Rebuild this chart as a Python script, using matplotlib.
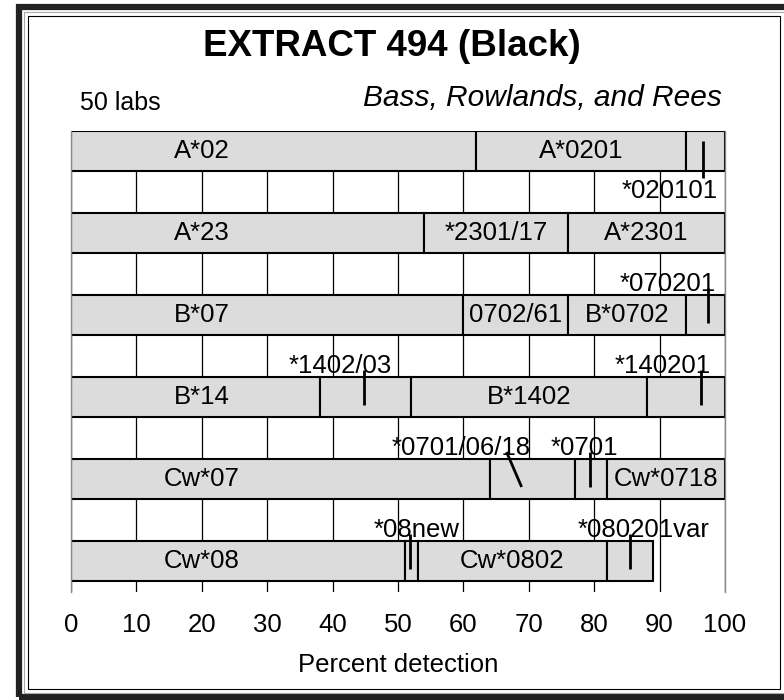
import matplotlib
matplotlib.use("Agg")
import matplotlib.pyplot as plt
from matplotlib.patches import Rectangle

plt.rcParams["font.family"] = ["Liberation Sans", "DejaVu Sans"]

# segment edges (percent) and the label inside each segment, one row per locus
row_names = ["A*02", "A*23", "B*07", "B*14", "Cw*07", "Cw*08"]
edges_a02 = [0, 62, 94, 100]
labels_a02 = ["A*02", "A*0201", ""]
edges_a23 = [0, 54, 76, 100]
labels_a23 = ["A*23", "*2301/17", "A*2301"]
edges_b07 = [0, 60, 76, 94, 100]
labels_b07 = ["B*07", "0702/61", "B*0702", ""]
edges_b14 = [0, 38, 52, 88, 100]
labels_b14 = ["B*14", "", "B*1402", ""]
edges_cw07 = [0, 64, 77, 82, 100]
labels_cw07 = ["Cw*07", "", "", "Cw*0718"]
edges_cw08 = [0, 51, 53, 82, 89]
labels_cw08 = ["Cw*08", "", "Cw*0802", ""]

# callouts: row index, text, text centre x, pointer x at top, pointer x at bottom, side
callout_rows = [0, 2, 3, 3, 4, 4, 5, 5]
callout_text = ["*020101", "*070201", "*1402/03", "*140201",
                "*0701/06/18", "*0701", "*08new", "*080201var"]
callout_tx = [91.6, 91.3, 41.1, 90.5, 59.6, 78.5, 52.8, 87.5]
callout_x0 = [96.7, 97.4, 44.8, 96.4, 66.6, 79.4, 51.8, 85.5]
callout_x1 = [96.7, 97.4, 44.8, 96.4, 68.9, 79.4, 51.8, 85.5]
callout_side = ["below", "above", "above", "above", "above", "above", "above", "above"]

xticks = list(range(0, 101, 10))

all_edges = [edges_a02, edges_a23, edges_b07, edges_b14, edges_cw07, edges_cw08]
all_labels = [labels_a02, labels_a23, labels_b07, labels_b14, labels_cw07, labels_cw08]

W, H = 784, 700
fig = plt.figure(figsize=(W / 100, H / 100), dpi=100)
fig.patch.set_facecolor("white")

def fx(px):
    return px / W

def fy(py):
    return 1 - py / H

# frame
fig.add_artist(Rectangle((fx(19), fy(697)), fx(800) - fx(19), fy(7) - fy(697),
                         transform=fig.transFigure, fill=False, ec="#222222", lw=4.5))
fig.add_artist(Rectangle((fx(24), fy(693)), fx(800) - fx(24), fy(12) - fy(693),
                         transform=fig.transFigure, fill=False, ec="#aaaaaa", lw=0.8))
fig.add_artist(Rectangle((fx(28), fy(689)), fx(780) - fx(28), fy(16) - fy(689),
                         transform=fig.transFigure, fill=False, ec="black", lw=0.8))

ax = fig.add_axes([fx(71), fy(592), fx(725) - fx(71), fy(131) - fy(592)])

bar_h = 40 / 82
for i, (edges, labels) in enumerate(zip(all_edges, all_labels)):
    lefts = edges[:-1]
    widths = [b - a for a, b in zip(edges[:-1], edges[1:])]
    ax.barh([i] * len(lefts), widths, left=lefts, height=bar_h,
            color="#dcdcdc", edgecolor="black", linewidth=1.5, zorder=2)
    for j, lab in enumerate(labels):
        if not lab:
            continue
        xc = 20 if j == 0 else (edges[j] + edges[j + 1]) / 2
        ax.text(xc, i, lab, ha="center", va="center", fontsize=18.5, zorder=4)

top_off = bar_h / 2
for r, t, tx, x0, x1, side in zip(callout_rows, callout_text, callout_tx,
                                   callout_x0, callout_x1, callout_side):
    if side == "above":
        ax.text(tx, r - top_off - 0.05, t, ha="center", va="baseline",
                fontsize=18.5, zorder=5)
        ax.plot([x0, x1], [r - top_off - 0.085, r + 0.097], color="black",
                lw=2, zorder=6, solid_capstyle="butt")
    else:
        ax.text(tx, r + 0.573, t, ha="center", va="baseline",
                fontsize=18.5, zorder=5)
        ax.plot([x0, x1], [r - top_off + 0.12, r + top_off + 0.085], color="black",
                lw=2, zorder=6, solid_capstyle="butt")

ax.set_xlim(0, 100)
ax.set_ylim(5 + (592 - 561) / 82, -top_off)
ax.set_xticks(xticks)
ax.set_yticks([])
ax.grid(axis="x", color="black", lw=0.9)
ax.set_axisbelow(True)
ax.tick_params(axis="x", length=0, pad=15, labelsize=18.5)
for s in ["top", "bottom"]:
    ax.spines[s].set_visible(False)
for s in ["left", "right"]:
    ax.spines[s].set_color("#888888")
    ax.spines[s].set_linewidth(1)

fig.text(fx(392), fy(46), "EXTRACT 494 (Black)", ha="center", va="center",
         fontsize=26.5, fontweight="bold")
fig.text(fx(80), fy(103), "50 labs", ha="left", va="center", fontsize=18)
fig.text(fx(722), fy(98), "Bass, Rowlands, and Rees", ha="right", va="center",
         fontsize=21.5, style="italic")
fig.text(fx(398), fy(665), "Percent detection", ha="center", va="center", fontsize=18.5)

fig.savefig("out.png", dpi=100)
